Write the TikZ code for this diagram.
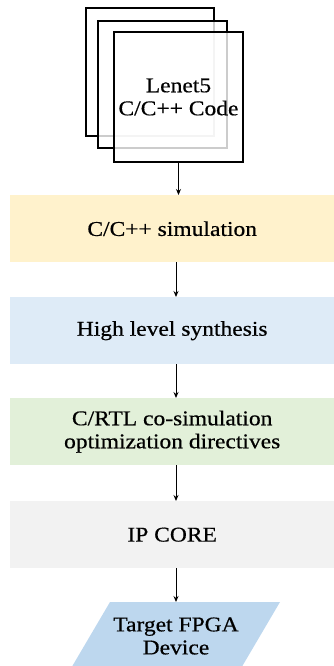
\documentclass[tikz,border=0pt]{standalone}
\usepackage{fontspec}
\setmainfont{Liberation Serif}[FakeStretch=1.12, FakeBold=0.5]
\usetikzlibrary{arrows.meta}
\definecolor{simfill}{HTML}{FFF2CC}
\definecolor{hlsfill}{HTML}{DEEBF7}
\definecolor{cosimfill}{HTML}{E2F0D9}
\definecolor{ipfill}{HTML}{F2F2F2}
\definecolor{fpgafill}{HTML}{BDD7EE}
\begin{document}
\begin{tikzpicture}[x=1pt, y=-1pt, font=\fontsize{21}{23}\selectfont,
    stage/.style = {rectangle, minimum width = 324pt, minimum height = 67pt,
      anchor = north west, align = center, inner sep = 0pt},
    sheet/.style = {draw, line width = 1.3pt},
    flow/.style = {-{Stealth[length=6pt, width=5pt]}, line width = 0.9pt}]
  \clip (0, 0) rectangle (334, 666);
  % stack of code sheets
  \draw[sheet] (86, 8) rectangle (214, 136);
  \draw[sheet, fill=white, fill opacity=0.8] (98, 21) rectangle (227, 148);
  \draw[sheet, fill=white, fill opacity=0.8] (114, 32) rectangle (243, 162);
  \node[align=center, inner sep=0pt, minimum width=129pt, minimum height=130pt]
    (code) at (178.5, 97) {Lenet5\\C/C++ Code};
  % flow stages
  \node[stage, fill=simfill] (sim) at (10, 195) {C/C++ simulation};
  \node[stage, fill=hlsfill] (hls) at (10, 297) {High level synthesis};
  \node[stage, fill=cosimfill] (cosim) at (10, 398)
    {C/RTL co-simulation\\optimization directives};
  \node[stage, fill=ipfill] (ip) at (10, 501) {IP CORE};
  \fill[fpgafill] (110, 602) -- (280, 602) -- (240, 670) -- (70, 670) -- cycle;
  \node[align=center, inner sep=0pt] (fpga) at (176, 636) {Target FPGA\\Device};
  \coordinate (fpga top) at (176, 602);
  % arrows
  \draw[flow] (code.south) -- (code.south |- sim.north);
  \draw[flow] (sim.south -| fpga top) -- (hls.north -| fpga top);
  \draw[flow] (hls.south -| fpga top) -- (cosim.north -| fpga top);
  \draw[flow] (cosim.south -| fpga top) -- (ip.north -| fpga top);
  \draw[flow] (ip.south -| fpga top) -- (fpga top);
\end{tikzpicture}
\end{document}
